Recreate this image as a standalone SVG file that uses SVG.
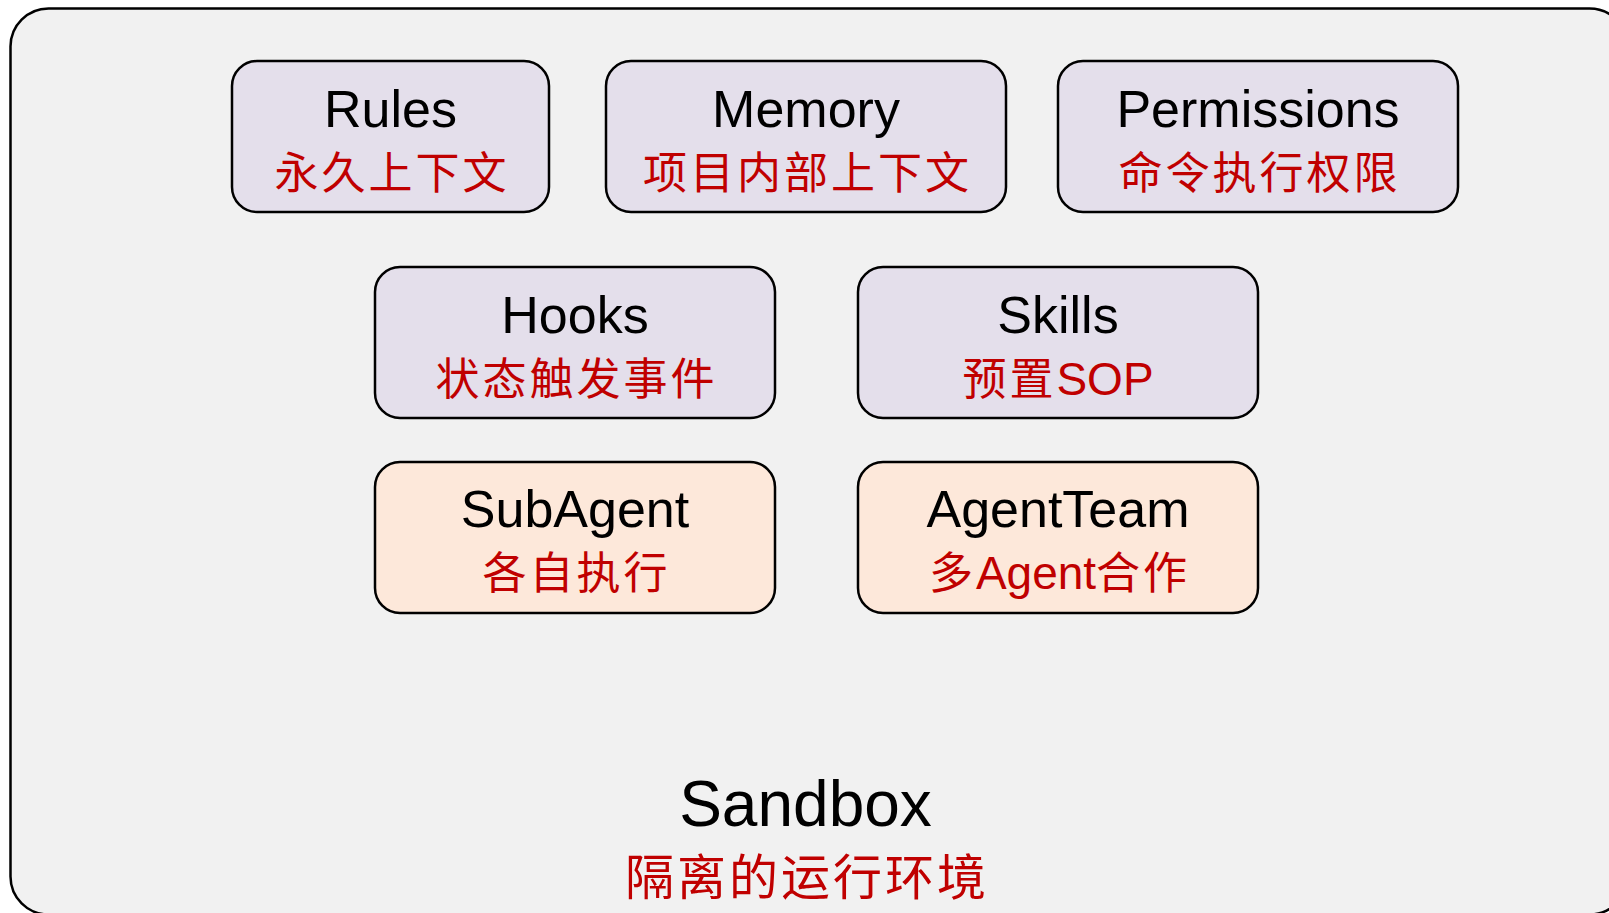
<svg xmlns="http://www.w3.org/2000/svg" width="1609" height="913" viewBox="0 0 1609 913">
<style>
.box{stroke:#000;stroke-width:2.5}
.p{fill:#e4dfeb}
.o{fill:#fde8da}
.t{font-family:"Liberation Sans",Arial,sans-serif;font-size:52px;fill:#000;text-anchor:middle}
.s{font-family:"Liberation Sans","Noto Sans CJK SC",sans-serif;font-size:44px;fill:#c00000;text-anchor:middle;letter-spacing:3px}
.l{font-size:46px;letter-spacing:0}
</style>
<rect width="1609" height="913" fill="#ffffff"/>
<g id="sandbox">
<rect x="10.5" y="8.5" width="1617" height="906" rx="38" fill="#f1f1f1" stroke="#000" stroke-width="2.5"/>
<text x="805.5" y="826" font-family="Liberation Sans,Arial,sans-serif" font-size="64" text-anchor="middle" fill="#000">Sandbox</text>
<text x="807" y="895" font-family="Noto Sans CJK SC,sans-serif" font-size="49" text-anchor="middle" fill="#c00000" letter-spacing="3">隔离的运行环境</text>
</g>
<g id="rules">
<rect class="box p" x="232" y="61" width="317" height="151" rx="25"/>
<text class="t" x="390.5" y="127">Rules</text>
<text class="s" x="392" y="189">永久上下文</text>
</g>
<g id="memory">
<rect class="box p" x="606" y="61" width="400" height="151" rx="25"/>
<text class="t" x="806" y="127">Memory</text>
<text class="s" x="807.5" y="189">项目内部上下文</text>
</g>
<g id="permissions">
<rect class="box p" x="1058" y="61" width="400" height="151" rx="25"/>
<text class="t" x="1258" y="127">Permissions</text>
<text class="s" x="1259.5" y="189">命令执行权限</text>
</g>
<g id="hooks">
<rect class="box p" x="375" y="267" width="400" height="151" rx="25"/>
<text class="t" x="575" y="333">Hooks</text>
<text class="s" x="576.5" y="395">状态触发事件</text>
</g>
<g id="skills">
<rect class="box p" x="858" y="267" width="400" height="151" rx="25"/>
<text class="t" x="1058" y="333">Skills</text>
<text class="s" x="1058" y="395">预置<tspan class="l">SOP</tspan></text>
</g>
<g id="subagent">
<rect class="box o" x="375" y="462" width="400" height="151" rx="25"/>
<text class="t" x="575" y="527">SubAgent</text>
<text class="s" x="576.5" y="589">各自执行</text>
</g>
<g id="agentteam">
<rect class="box o" x="858" y="462" width="400" height="151" rx="25"/>
<text class="t" x="1058" y="527">AgentTeam</text>
<text class="s" x="1059.5" y="589">多<tspan class="l">Agent</tspan>合作</text>
</g>
<g id="connectors"/>
</svg>
